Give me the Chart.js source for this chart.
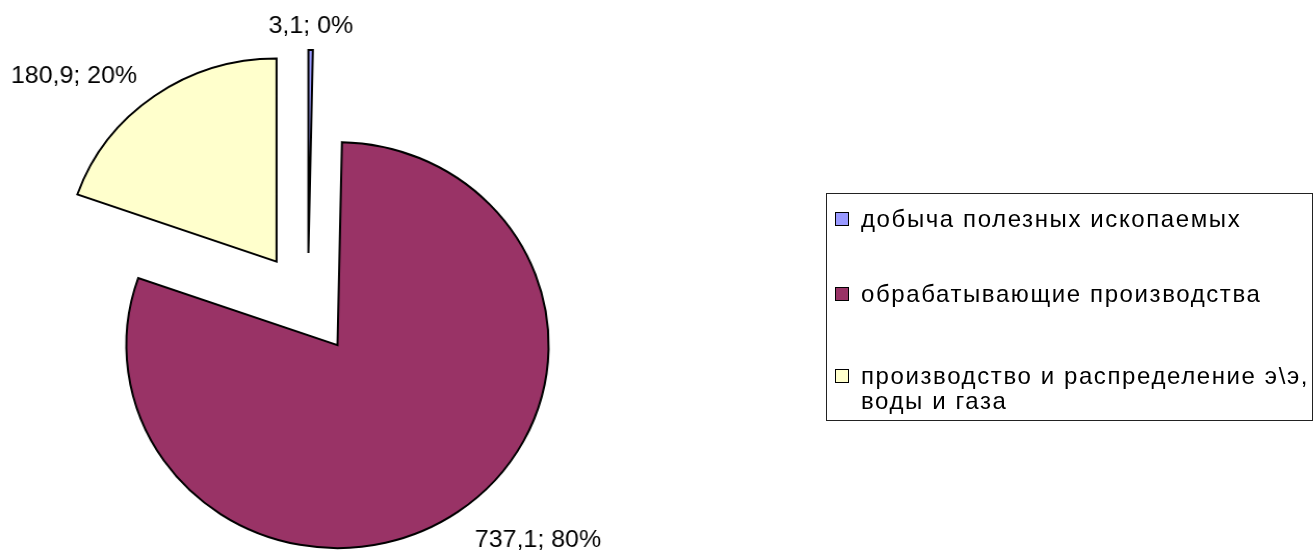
<!DOCTYPE html>
<html lang="ru">
<head>
<meta charset="utf-8">
<title>Структура</title>
<script src="https://cdn.jsdelivr.net/npm/chart.js@4.4.0/dist/chart.umd.min.js"></script>
<style>
    body { margin: 0; background: #fff; }
    #wrap { position: relative; width: 1313px; height: 555px; overflow: hidden; }
    /* le graphique d'origine est légèrement étiré en largeur */
    #chartPie { transform: scaleX(1.04); transform-origin: 0 0; }
    #legend {
        position: absolute; left: 826px; top: 193px; width: 487px; height: 228px;
        border: 1px solid #222; box-sizing: border-box;
        font-family: "Liberation Sans", Arial, sans-serif; font-size: 24px; line-height: 25px;
        letter-spacing: 1.6px; color: #000;
    }
    #legend .item { position: relative; padding-left: 34px; width: 462px; }
    #legend .item:nth-child(1) { margin-top: 12px; }
    #legend .item:nth-child(2) { margin-top: 50px; }
    #legend .item:nth-child(3) { margin-top: 57px; }
    #legend .box { position: absolute; left: 8px; top: 6px; width: 12px; height: 12px; border: 1px solid #000; }
</style>
</head>
<body>
<div id="wrap">
    <canvas id="chartPie"></canvas>
    <div id="legend"></div>
</div>
<script>
// Données du graphique
const labels = ['добыча полезных ископаемых', 'обрабатывающие производства', 'производство и распределение э\\э, воды и газа'];
const values = [3.1, 737.1, 180.9];
const colors = ['#9999FF', '#993366', '#FFFFCC'];

const total = values.reduce((a, b) => a + b, 0);

// On décale chaque part le long de son angle médian (effet "éclaté")
const explodePlugin = {
    id: 'explode',
    afterDatasetUpdate(chart, args, opts) {
        args.meta.data.forEach((arc, i) => {
            const d = opts.distance[i] || 0;
            const mid = (arc.startAngle + arc.endAngle) / 2;
            arc.x += Math.cos(mid) * d;
            arc.y += Math.sin(mid) * d;
        });
    }
};

// Etiquettes "valeur; pourcentage" à l'extérieur des parts
const labelPlugin = {
    id: 'pieLabels',
    afterDatasetsDraw(chart, args, opts) {
        const ctx = chart.ctx;
        const meta = chart.getDatasetMeta(0);
        ctx.save();
        ctx.font = opts.font;
        ctx.fillStyle = '#000';
        meta.data.forEach((arc, i) => {
            const v = values[i];
            const text = v.toFixed(1).replace('.', ',') + '; ' + Math.round(v / total * 100) + '%';
            const mid = (arc.startAngle + arc.endAngle) / 2;
            const r = arc.outerRadius + opts.gap;
            const cx = Math.cos(mid), cy = Math.sin(mid);
            let x = arc.x + cx * r;
            let y = arc.y + cy * r;
            if (cx > 0.2) { ctx.textAlign = 'left'; x += opts.hpad; }
            else if (cx < -0.2) { ctx.textAlign = 'right'; x -= opts.hpad; }
            else ctx.textAlign = 'center';
            if (cy > 0) ctx.textBaseline = 'top';
            else { ctx.textBaseline = 'alphabetic'; y += opts.dy; }
            ctx.fillText(text, x, y);
        });
        ctx.restore();
    }
};

const pie = new Chart(document.getElementById('chartPie'), {
    type: 'pie',
    data: {
        labels: labels,
        datasets: [{
            data: values,
            backgroundColor: colors,
            borderColor: '#000',
            borderWidth: 2,
            borderJoinStyle: 'miter',
            radius: 203,
            hoverOffset: 0
        }]
    },
    options: {
        responsive: true,
        maintainAspectRatio: false,
        animation: false,
        events: [],
        layout: {
            padding: { left: 96, right: 817, top: 104, bottom: 51 }
        },
        plugins: {
            legend: { display: false },
            tooltip: { enabled: false },
            explode: { distance: [51, 50, 52] },
            pieLabels: { font: '24px "Liberation Sans", Arial, sans-serif', gap: 20, hpad: 5, dy: 3 }
        }
    },
    plugins: [explodePlugin, labelPlugin]
});

// Légende HTML construite à partir des mêmes tableaux
const legend = document.getElementById('legend');
labels.forEach((lab, i) => {
    const item = document.createElement('div');
    item.className = 'item';
    const box = document.createElement('span');
    box.className = 'box';
    box.style.background = colors[i];
    item.appendChild(box);
    item.appendChild(document.createTextNode(lab));
    legend.appendChild(item);
});
</script>
</body>
</html>
